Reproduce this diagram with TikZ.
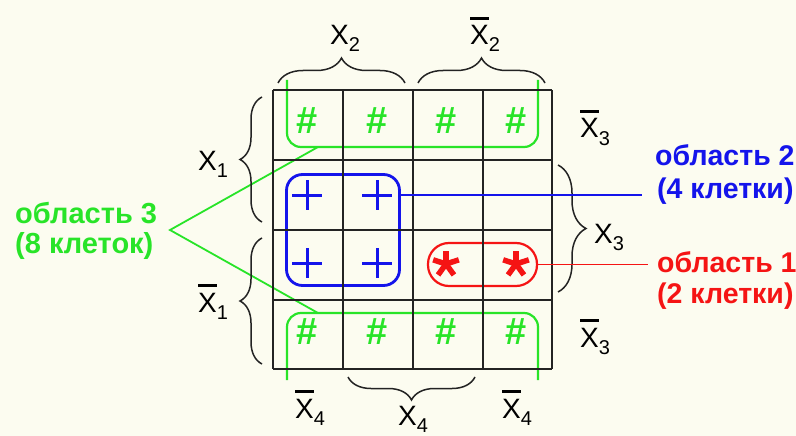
\documentclass[tikz,border=0pt]{standalone}
\usepackage{fontspec}
\setmainfont{Liberation Sans}
\usetikzlibrary{decorations.pathreplacing}
\definecolor{bg}{RGB}{252,252,240}
\definecolor{kgreen}{RGB}{40,228,40}
\definecolor{kblue}{RGB}{20,20,235}
\definecolor{kred}{RGB}{245,20,20}
\definecolor{kgray}{RGB}{35,35,35}
\newcommand\kvX[1]{{\fontsize{28}{28}\selectfont X\raisebox{-7pt}{\fontsize{20}{20}\selectfont #1}}}
\newcommand\kvXb[1]{{\fontsize{28}{28}\selectfont\setbox0\hbox{X}\rlap{\raisebox{\dimexpr\ht0+6pt\relax}{\rule{\wd0}{3pt}}}X\raisebox{-7pt}{\fontsize{20}{20}\selectfont #1}}}
\begin{document}
\begin{tikzpicture}[x=1pt,y=-1pt,
  lbl/.style={font=\fontsize{29}{29}\selectfont\bfseries, inner sep=0pt, anchor=base west},
  lblr/.style={font=\fontsize{28.5}{28.5}\selectfont\bfseries, inner sep=0pt, anchor=base west},
  varl/.style={inner sep=0pt, anchor=base west, text=black},
  hashs/.style={text=kgreen, font=\fontsize{38}{38}\selectfont\bfseries, inner sep=0pt, anchor=base},
  brc/.style={draw=kgray, line width=1.5pt, decorate, decoration={brace, amplitude=#1}},
  brc/.default=24,
  gridl/.style={draw=kgray, line width=2.4pt},
  gline/.style={draw=kgreen, line width=2.2pt},
  pluss/.style={draw=kblue, line width=3pt},
  astr/.style={draw=kred, line width=5.5pt}]
\fill[bg] (0,0) rectangle (796,436);
\useasboundingbox (0,0) rectangle (796,436);

% green region 3 (U shapes)
\draw[gline, rounded corners=14pt] (287,80) -- (287,147) -- (538,147) -- (538,80);
\draw[gline, rounded corners=14pt] (287,380) -- (287,313) -- (538,313) -- (538,380);
\coordinate (gt) at (318,147);
\coordinate (gb) at (318,313);
\coordinate (g3) at (170,230);
\draw[draw=kgreen, line width=1.8pt] (gt) -- (g3) -- (gb);

% blue region 2
\node[draw=kblue, line width=2.8pt, rounded corners=16pt, minimum width=113pt, minimum height=111pt, inner sep=0pt] (r2) at (343,230) {};
\coordinate (p11) at (307,195);
\coordinate (p12) at (377,195);
\coordinate (p21) at (307,263);
\coordinate (p22) at (377,263);
\foreach \p in {p11,p12,p21,p22}{
  \draw[pluss] (\p) ++(-15,0) -- ++(30,0);
  \draw[pluss] (\p) ++(0,-15) -- ++(0,30);
}

% red region 1
\node[draw=kred, line width=2.2pt, rounded corners=21pt, minimum width=109pt, minimum height=43pt, inner sep=0pt] (r1) at (482.5,264.5) {};
\coordinate (a1) at (446,264);
\coordinate (a2) at (516,264);
\foreach \p in {a1,a2}{
  \foreach \a in {-90,-18,198,54,126}{
    \draw[astr] (\p) -- ++(\a:13.5);
  }
}

% hashes
\foreach \x/\n in {307/1,377/2,446/3,516/4}{
  \node[hashs] (ht\n) at (\x,133) {\#};
  \node[hashs] (hb\n) at (\x,344) {\#};
}

% grid
\foreach \x in {273,343,413,483,552} \draw[gridl] (\x,90) -- (\x,369);
\foreach \y in {90,160,230,300,369} \draw[gridl] (273,\y) -- (552,\y);

% braces
\draw[brc=25] (278,83) -- (405,83);
\draw[brc=25] (418,83) -- (545,83);
\draw[brc=22] (262,222) -- (262,97);
\draw[brc=22] (262,364) -- (262,238);
\draw[brc=28] (558,165) -- (558,292);
\draw[brc=23] (475,377) -- (348,377);

% variable labels
\node[varl] (x2) at (330,45) {\kvX{2}};
\node[varl] (x2b) at (470,45) {\kvXb{2}};
\node[varl] (x1) at (198,170) {\kvX{1}};
\node[varl] (x1b) at (198,312) {\kvXb{1}};
\node[varl] (x3t) at (580,138) {\kvXb{3}};
\node[varl] (x3) at (594,243) {\kvX{3}};
\node[varl] (x3b) at (580,347) {\kvXb{3}};
\node[varl] (x4l) at (295,418) {\kvXb{4}};
\node[varl] (x4) at (398,425) {\kvX{4}};
\node[varl] (x4r) at (502,418) {\kvXb{4}};

% region labels
\node[lbl, text=kgreen] (lab3a) at (15,223) {область 3};
\node[lbl, text=kgreen] (lab3b) at (15,253) {(8 клеток)};
\node[lblr, text=kblue] (lab2a) at (655,165) {область 2};
\node[lblr, text=kblue] (lab2b) at (657,198) {(4 клетки)};
\node[lblr, text=kred] (lab1a) at (657,272) {область 1};
\node[lblr, text=kred] (lab1b) at (657,303) {(2 клетки)};

% leaders
\draw[draw=kblue, line width=1.8pt] (r2.east |- p12) -- ([xshift=-15pt]lab2b.west |- p12);
\draw[draw=kred, line width=1.8pt] (r1.east) -- ([xshift=-9pt]lab1a.west |- r1.east);
\end{tikzpicture}
\end{document}
